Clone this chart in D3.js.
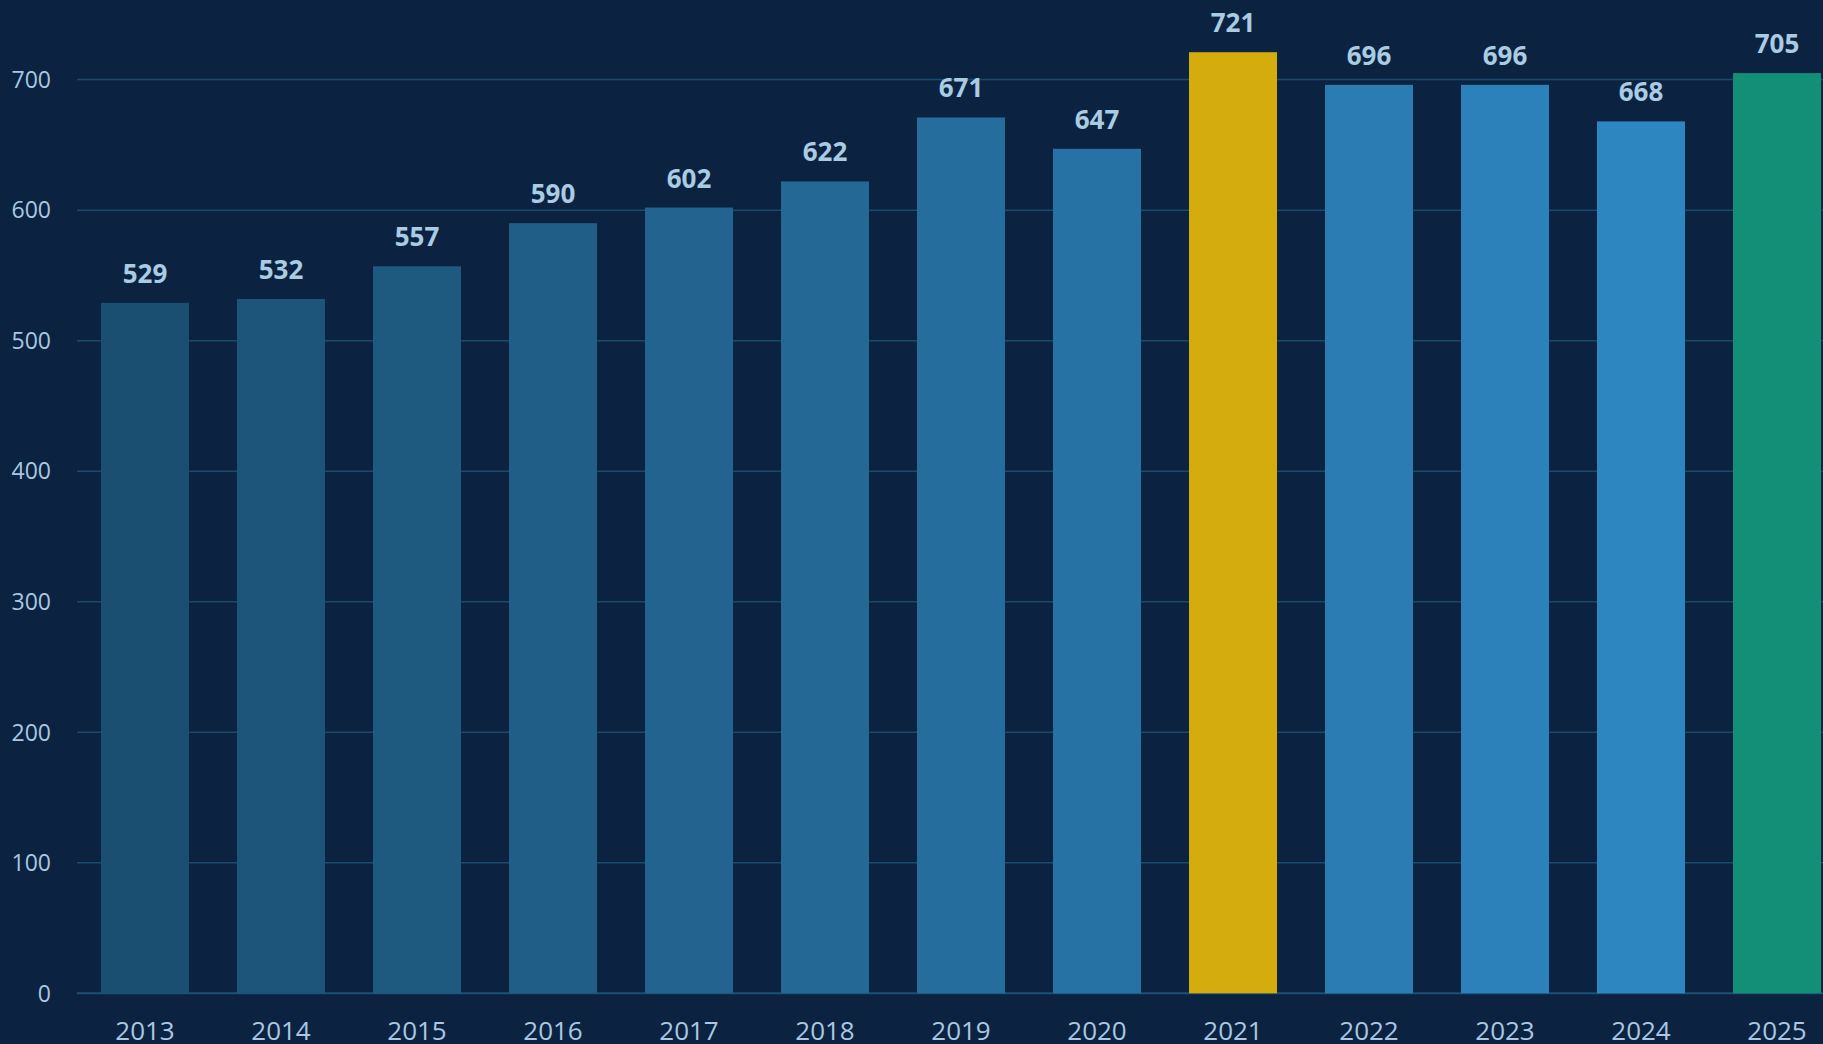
<!DOCTYPE html>
<html>
<head>
<meta charset="utf-8">
<script src="https://cdn.jsdelivr.net/npm/d3@7"></script>
<style>
  html, body { margin: 0; padding: 0; background: #0b2341; overflow: hidden; }
  svg { display: block; font-family: "Open Sans", "Noto Sans", sans-serif; }
  .grid line { stroke: #1a4a6c; stroke-width: 1.5px; }
  .y-label { fill: #a9c8e0; font-size: 23px; }
  .x-label { fill: #a9c8e0; font-size: 26px; }
  .value-label { fill: #a9cce3; font-size: 26px; font-weight: 700; }
</style>
</head>
<body>
<div id="chart-area"></div>
<script>
const width = 1823;
const height = 1044;

// Data
const years = ["2013", "2014", "2015", "2016", "2017", "2018", "2019",
  "2020", "2021", "2022", "2023", "2024", "2025"];
const values = [529, 532, 557, 590, 602, 622, 671, 647, 721, 696, 696, 668, 705];
const yTicks = [0, 100, 200, 300, 400, 500, 600, 700];
const highlightYears = { "2021": "#d4ac0d", "2025": "#148f77" };

const plot = { left: 77, right: 1845, top: 1.3, bottom: 993.3 };

const svg = d3.select("#chart-area")
  .append("svg")
    .attr("width", width)
    .attr("height", height);

svg.append("rect")
  .attr("width", width)
  .attr("height", height)
  .attr("fill", "#0b2341");

// Scales
const x = d3.scaleBand()
  .domain(years)
  .range([plot.left, plot.right])
  .paddingInner(0.353)
  .paddingOuter(0.1765);

const y = d3.scaleLinear()
  .domain([0, 760])
  .range([plot.bottom, plot.top]);

// bar colours run dark -> light blue over the years
const blueRamp = d3.interpolateRgb("#1b4f72", "#2e86c1");
const barColor = (d, i) => highlightYears[d] || blueRamp(i / 11);

// Gridlines
svg.append("g")
  .attr("class", "grid")
  .selectAll("line")
  .data(yTicks)
  .enter().append("line")
    .attr("x1", plot.left)
    .attr("x2", width)
    .attr("y1", d => y(d))
    .attr("y2", d => y(d))
    .style("stroke", d => d === 0 ? "#1f5074" : null)
    .style("stroke-width", d => d === 0 ? "2px" : null);

// Y labels
svg.append("g")
  .selectAll("text")
  .data(yTicks)
  .enter().append("text")
    .attr("class", "y-label")
    .attr("x", 51)
    .attr("y", d => y(d))
    .attr("dy", "0.36em")
    .style("text-anchor", "end")
    .text(d => d);

// Bars
svg.append("g")
  .selectAll("rect")
  .data(years)
  .enter().append("rect")
    .attr("x", d => x(d))
    .attr("y", (d, i) => y(values[i]))
    .attr("width", x.bandwidth())
    .attr("height", (d, i) => y(0) - y(values[i]))
    .attr("fill", barColor);

// Value labels
svg.append("g")
  .selectAll("text")
  .data(years)
  .enter().append("text")
    .attr("class", "value-label")
    .attr("x", d => x(d) + x.bandwidth() / 2)
    .attr("y", (d, i) => y(values[i]) - 20)
    .style("text-anchor", "middle")
    .text((d, i) => values[i]);

// X labels
svg.append("g")
  .selectAll("text")
  .data(years)
  .enter().append("text")
    .attr("class", "x-label")
    .attr("x", d => x(d) + x.bandwidth() / 2)
    .attr("y", 1040)
    .style("text-anchor", "middle")
    .text(d => d);
</script>
</body>
</html>
